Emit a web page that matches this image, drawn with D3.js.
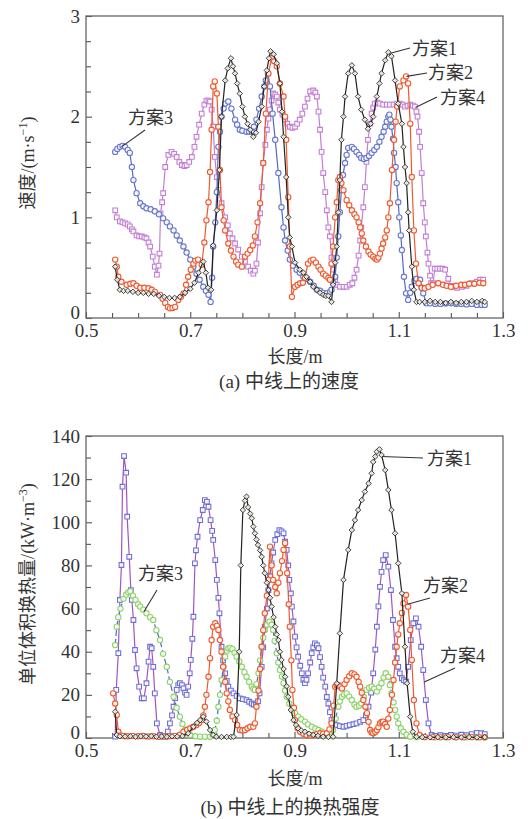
<!DOCTYPE html>
<html><head><meta charset="utf-8">
<script src="https://cdn.jsdelivr.net/npm/d3@7"></script>
<style>html,body{margin:0;padding:0;background:#fff;}svg{display:block;}</style>
</head><body>
<svg id="c" width="530" height="819"></svg>
<script>
// ---------- DATA ----------
const xTicks = [0.5, 0.7, 0.9, 1.1, 1.3];
const xMinor = [0.55, 0.6, 0.65, 0.75, 0.8, 0.85, 0.95, 1.0, 1.05, 1.15, 1.2, 1.25];
const yTicksA = [0, 1, 2, 3];
const yMinorA = [0.25, 0.5, 0.75, 1.25, 1.5, 1.75, 2.25, 2.5, 2.75];
const yTicksB = [0, 20, 40, 60, 80, 100, 120, 140];
const yMinorB = [10, 30, 50, 70, 90, 110, 130];
const seriesNames = ["方案1", "方案2", "方案3", "方案4"];

// (a) velocity, m/s  [length m, value]
const vel1 = [[0.556,0.51],[0.560,0.38],[0.565,0.28],[0.572,0.27],[0.580,0.27],[0.590,0.26],[0.600,0.25],[0.610,0.25],[0.620,0.24],[0.630,0.24],[0.640,0.22],[0.650,0.21],[0.660,0.20],[0.670,0.20],[0.680,0.21],[0.690,0.25],[0.700,0.29],[0.708,0.35],[0.716,0.45],[0.725,0.56],[0.730,0.45],[0.734,0.30],[0.740,0.28],[0.744,0.72],[0.751,1.07],[0.756,1.47],[0.760,2.00],[0.767,2.36],[0.772,2.48],[0.778,2.58],[0.782,2.50],[0.786,2.43],[0.790,2.33],[0.795,2.23],[0.800,2.10],[0.805,2.00],[0.810,1.93],[0.815,1.87],[0.821,1.80],[0.826,1.84],[0.831,1.95],[0.837,2.10],[0.842,2.30],[0.847,2.46],[0.851,2.58],[0.854,2.65],[0.860,2.62],[0.866,2.53],[0.872,2.33],[0.876,2.05],[0.879,1.80],[0.884,1.40],[0.888,1.00],[0.891,0.80],[0.895,0.71],[0.901,0.55],[0.910,0.48],[0.917,0.45],[0.923,0.41],[0.930,0.36],[0.936,0.31],[0.943,0.28],[0.949,0.25],[0.955,0.23],[0.960,0.22],[0.965,0.22],[0.971,0.16],[0.974,0.33],[0.978,0.55],[0.981,0.71],[0.984,1.05],[0.987,1.37],[0.990,1.77],[0.994,2.00],[0.997,2.20],[1.003,2.43],[1.010,2.51],[1.016,2.43],[1.022,2.20],[1.028,2.07],[1.035,1.97],[1.041,1.88],[1.046,1.93],[1.051,2.00],[1.058,2.20],[1.063,2.33],[1.067,2.43],[1.074,2.56],[1.080,2.64],[1.086,2.60],[1.093,2.36],[1.099,2.13],[1.106,1.93],[1.109,1.70],[1.112,1.50],[1.115,1.34],[1.118,1.05],[1.120,0.87],[1.125,0.51],[1.129,0.28],[1.134,0.16],[1.140,0.16],[1.150,0.16],[1.160,0.17],[1.170,0.16],[1.180,0.16],[1.190,0.15],[1.200,0.16],[1.210,0.15],[1.220,0.16],[1.230,0.16],[1.240,0.17],[1.250,0.16],[1.260,0.17],[1.265,0.16]];
const vel2 = [[0.556,0.58],[0.559,0.51],[0.562,0.41],[0.568,0.36],[0.578,0.33],[0.585,0.34],[0.591,0.345],[0.597,0.32],[0.604,0.30],[0.612,0.30],[0.620,0.295],[0.626,0.28],[0.632,0.26],[0.642,0.23],[0.647,0.19],[0.652,0.15],[0.657,0.11],[0.661,0.096],[0.666,0.10],[0.671,0.11],[0.677,0.18],[0.682,0.21],[0.687,0.245],[0.692,0.33],[0.696,0.41],[0.701,0.48],[0.706,0.54],[0.710,0.57],[0.715,0.58],[0.722,0.53],[0.727,0.75],[0.731,0.97],[0.735,1.15],[0.738,1.45],[0.741,1.87],[0.744,2.30],[0.747,2.35],[0.751,2.23],[0.754,1.90],[0.757,1.47],[0.760,1.10],[0.764,0.97],[0.767,0.87],[0.773,0.74],[0.778,0.67],[0.783,0.61],[0.788,0.56],[0.792,0.53],[0.799,0.51],[0.805,0.61],[0.810,0.64],[0.815,0.675],[0.820,0.72],[0.824,0.81],[0.829,0.95],[0.834,1.14],[0.840,1.54],[0.845,2.03],[0.850,2.43],[0.856,2.58],[0.861,2.55],[0.866,2.50],[0.872,2.33],[0.879,2.20],[0.882,2.00],[0.884,1.77],[0.888,1.20],[0.891,0.71],[0.895,0.21],[0.901,0.31],[0.906,0.33],[0.911,0.345],[0.916,0.35],[0.920,0.40],[0.926,0.54],[0.931,0.57],[0.936,0.58],[0.941,0.55],[0.946,0.51],[0.950,0.48],[0.955,0.44],[0.960,0.42],[0.965,0.40],[0.968,0.38],[0.971,0.54],[0.974,0.71],[0.978,1.00],[0.981,1.15],[0.984,1.37],[0.987,1.40],[0.990,1.34],[0.994,1.27],[1.000,1.17],[1.005,1.12],[1.010,1.07],[1.015,1.03],[1.019,1.00],[1.023,0.95],[1.026,0.90],[1.029,0.84],[1.032,0.77],[1.037,0.71],[1.042,0.66],[1.046,0.63],[1.051,0.61],[1.055,0.59],[1.058,0.58],[1.061,0.60],[1.064,0.64],[1.067,0.69],[1.070,0.74],[1.074,0.80],[1.077,0.87],[1.080,1.00],[1.083,1.14],[1.087,1.47],[1.091,1.77],[1.094,1.95],[1.097,2.10],[1.102,2.30],[1.109,2.36],[1.114,2.40],[1.118,2.33],[1.122,1.93],[1.125,1.40],[1.129,0.87],[1.133,0.54],[1.138,0.345],[1.144,0.30],[1.150,0.295],[1.157,0.31],[1.165,0.33],[1.176,0.345],[1.185,0.33],[1.192,0.32],[1.200,0.31],[1.210,0.32],[1.220,0.33],[1.227,0.33],[1.235,0.34],[1.245,0.34],[1.255,0.35],[1.262,0.345]];
const vel3 = [[0.556,1.65],[0.560,1.68],[0.565,1.70],[0.570,1.71],[0.575,1.70],[0.580,1.67],[0.584,1.64],[0.588,1.50],[0.591,1.37],[0.597,1.24],[0.604,1.14],[0.610,1.11],[0.616,1.09],[0.624,1.08],[0.632,1.06],[0.640,1.03],[0.648,0.99],[0.655,0.95],[0.661,0.91],[0.668,0.87],[0.674,0.82],[0.680,0.77],[0.687,0.71],[0.693,0.65],[0.700,0.58],[0.706,0.51],[0.712,0.44],[0.718,0.38],[0.725,0.31],[0.730,0.27],[0.735,0.23],[0.739,0.16],[0.742,0.40],[0.744,0.71],[0.748,0.95],[0.751,1.25],[0.754,1.70],[0.757,1.85],[0.760,2.00],[0.764,2.08],[0.767,2.13],[0.773,2.15],[0.779,2.08],[0.786,1.97],[0.790,1.92],[0.795,1.87],[0.800,1.86],[0.808,1.85],[0.813,1.85],[0.818,1.85],[0.822,1.90],[0.827,1.97],[0.832,2.08],[0.837,2.20],[0.842,2.30],[0.845,2.36],[0.849,2.43],[0.853,2.30],[0.858,2.03],[0.863,1.77],[0.869,1.44],[0.875,1.10],[0.879,0.90],[0.882,0.77],[0.887,0.67],[0.891,0.58],[0.897,0.52],[0.904,0.48],[0.910,0.45],[0.917,0.41],[0.924,0.39],[0.930,0.36],[0.937,0.32],[0.943,0.28],[0.949,0.27],[0.955,0.25],[0.962,0.245],[0.968,0.26],[0.971,0.28],[0.974,0.35],[0.978,0.41],[0.981,0.60],[0.984,0.81],[0.987,1.05],[0.990,1.27],[0.993,1.42],[0.997,1.54],[1.000,1.62],[1.003,1.69],[1.010,1.70],[1.014,1.68],[1.019,1.65],[1.024,1.62],[1.028,1.59],[1.033,1.58],[1.038,1.59],[1.043,1.61],[1.048,1.64],[1.053,1.67],[1.058,1.70],[1.063,1.75],[1.067,1.80],[1.071,1.85],[1.074,1.90],[1.077,1.95],[1.080,2.00],[1.082,2.02],[1.084,1.97],[1.086,1.90],[1.089,1.78],[1.091,1.64],[1.094,1.50],[1.096,1.34],[1.099,1.15],[1.101,1.00],[1.104,0.82],[1.106,0.675],[1.110,0.41],[1.114,0.245],[1.118,0.18],[1.122,0.25],[1.125,0.31],[1.130,0.37],[1.134,0.39],[1.141,0.38],[1.144,0.30],[1.147,0.245],[1.153,0.146],[1.160,0.146],[1.170,0.14],[1.180,0.14],[1.190,0.145],[1.200,0.146],[1.210,0.14],[1.220,0.14],[1.230,0.135],[1.240,0.14],[1.250,0.13],[1.259,0.13],[1.265,0.13]];
const vel4 = [[0.556,1.07],[0.559,1.00],[0.565,0.96],[0.570,0.95],[0.575,0.94],[0.580,0.93],[0.584,0.91],[0.588,0.88],[0.591,0.86],[0.597,0.82],[0.602,0.81],[0.607,0.81],[0.612,0.80],[0.616,0.79],[0.620,0.75],[0.623,0.71],[0.628,0.61],[0.632,0.51],[0.636,0.43],[0.639,0.52],[0.641,0.64],[0.643,1.04],[0.646,1.15],[0.648,1.24],[0.652,1.50],[0.658,1.62],[0.664,1.65],[0.669,1.63],[0.674,1.60],[0.679,1.55],[0.684,1.52],[0.689,1.51],[0.693,1.52],[0.698,1.55],[0.703,1.60],[0.708,1.70],[0.712,1.80],[0.717,1.92],[0.722,2.03],[0.727,2.12],[0.731,2.16],[0.735,2.16],[0.738,2.15],[0.741,2.07],[0.744,1.90],[0.747,1.60],[0.751,1.40],[0.754,1.27],[0.760,1.14],[0.767,1.00],[0.772,0.92],[0.776,0.84],[0.781,0.79],[0.786,0.74],[0.792,0.68],[0.799,0.61],[0.805,0.56],[0.811,0.51],[0.816,0.47],[0.821,0.44],[0.824,0.47],[0.827,0.54],[0.830,0.75],[0.834,1.04],[0.837,1.30],[0.840,1.54],[0.844,1.72],[0.847,1.87],[0.850,1.98],[0.853,2.07],[0.856,2.16],[0.859,2.23],[0.863,2.22],[0.866,2.20],[0.869,2.14],[0.872,2.07],[0.877,2.02],[0.882,1.97],[0.886,1.93],[0.891,1.90],[0.896,1.89],[0.901,1.90],[0.905,1.93],[0.910,1.97],[0.915,2.03],[0.920,2.10],[0.925,2.18],[0.930,2.25],[0.936,2.26],[0.940,2.24],[0.943,2.20],[0.946,2.05],[0.949,1.87],[0.952,1.65],[0.955,1.44],[0.959,1.25],[0.962,1.07],[0.965,0.90],[0.968,0.81],[0.971,0.60],[0.974,0.48],[0.978,0.38],[0.981,0.33],[0.987,0.31],[0.994,0.31],[1.000,0.31],[1.006,0.33],[1.011,0.345],[1.015,0.40],[1.019,0.48],[1.023,0.62],[1.026,0.77],[1.028,0.90],[1.032,1.10],[1.035,1.30],[1.038,1.55],[1.041,1.77],[1.045,1.93],[1.048,2.03],[1.051,2.09],[1.054,2.13],[1.059,2.14],[1.064,2.13],[1.070,2.12],[1.077,2.12],[1.083,2.12],[1.090,2.12],[1.096,2.13],[1.102,2.13],[1.107,2.12],[1.112,2.10],[1.117,2.11],[1.122,2.12],[1.127,2.11],[1.131,2.10],[1.134,2.05],[1.136,2.00],[1.139,1.85],[1.141,1.70],[1.144,1.44],[1.147,1.14],[1.150,0.95],[1.152,0.81],[1.155,0.65],[1.157,0.54],[1.160,0.42],[1.162,0.345],[1.166,0.345],[1.169,0.49],[1.174,0.49],[1.179,0.49],[1.184,0.49],[1.189,0.48],[1.195,0.39],[1.200,0.32],[1.205,0.31],[1.212,0.30],[1.221,0.31],[1.230,0.32],[1.240,0.345],[1.250,0.36],[1.256,0.38],[1.262,0.38]];

// (b) heat transfer intensity, kW/m3
const heat1 = [[0.556,12.2],[0.559,1.4],[0.565,0.8],[0.575,0.7],[0.585,0.8],[0.595,0.6],[0.605,0.8],[0.615,0.7],[0.625,0.9],[0.635,0.6],[0.645,0.7],[0.655,0.6],[0.665,0.8],[0.675,0.7],[0.685,0.9],[0.696,2.2],[0.706,5.2],[0.713,7.0],[0.719,8.3],[0.725,9.9],[0.731,7.6],[0.738,3.7],[0.744,1.4],[0.750,0.6],[0.760,0.5],[0.770,0.5],[0.778,0.5],[0.783,0.6],[0.789,10.7],[0.794,40],[0.797,80],[0.801,105.7],[0.805,110],[0.808,111.9],[0.811,107],[0.815,104],[0.818,101.9],[0.821,98],[0.824,94.9],[0.827,92],[0.830,89.5],[0.834,87],[0.837,84],[0.840,80],[0.843,76.4],[0.847,72],[0.850,68.6],[0.853,65],[0.856,60.9],[0.860,56],[0.863,51.6],[0.866,48],[0.869,45.4],[0.872,40],[0.875,36.2],[0.879,32],[0.882,28.4],[0.885,24],[0.888,19.1],[0.893,13],[0.898,8.3],[0.903,6],[0.907,4.5],[0.913,3.5],[0.920,2.9],[0.928,2.0],[0.936,1.4],[0.945,1.0],[0.955,0.6],[0.965,0.5],[0.974,0.6],[0.981,25.3],[0.987,48.5],[0.994,73.3],[1.003,87.2],[1.010,96.4],[1.016,101],[1.022,105.7],[1.029,110.3],[1.035,114.2],[1.042,118],[1.048,122.7],[1.051,128],[1.055,130.5],[1.058,132.7],[1.063,133.8],[1.067,131.2],[1.074,124.2],[1.080,115],[1.086,105.7],[1.093,94.9],[1.099,81],[1.106,67.1],[1.112,42.3],[1.116,25.4],[1.122,9.9],[1.127,2.9],[1.134,0.6],[1.145,0.4],[1.160,0.3],[1.175,0.4],[1.190,0.3],[1.205,0.4],[1.220,0.3],[1.235,0.4],[1.250,0.3],[1.265,0.4]];
const heat2 = [[0.552,20.7],[0.556,16],[0.559,10.7],[0.562,2.9],[0.566,1.2],[0.572,1.0],[0.580,0.8],[0.590,1.0],[0.600,0.8],[0.610,0.9],[0.620,0.7],[0.630,0.8],[0.640,0.6],[0.650,0.7],[0.660,0.8],[0.670,1.0],[0.680,1.5],[0.687,2.9],[0.694,3.8],[0.700,4.5],[0.706,5.2],[0.712,6.0],[0.717,7.0],[0.722,8.3],[0.725,10.5],[0.728,14.5],[0.731,20],[0.735,28.4],[0.738,37],[0.741,45.4],[0.744,51.6],[0.748,53.2],[0.751,52],[0.754,50.1],[0.757,45.4],[0.760,40],[0.763,33],[0.767,26],[0.770,20.7],[0.773,17],[0.776,13],[0.781,10],[0.786,8.3],[0.790,6],[0.795,3.7],[0.800,3.5],[0.805,3.7],[0.810,4.5],[0.815,5.2],[0.821,5.2],[0.824,6.8],[0.827,14.5],[0.831,22],[0.834,32],[0.837,42.3],[0.840,50],[0.843,57.8],[0.847,66],[0.850,73.3],[0.853,88.7],[0.856,80],[0.859,73.3],[0.863,70],[0.866,67.1],[0.869,72],[0.872,76.4],[0.876,82],[0.879,87.2],[0.882,90.3],[0.886,76.4],[0.889,62],[0.891,51.6],[0.894,36],[0.896,22.3],[0.899,14],[0.901,8.3],[0.906,4.5],[0.911,2.9],[0.917,2.0],[0.923,1.4],[0.930,1.2],[0.936,1.4],[0.943,1.8],[0.949,2.2],[0.955,2.0],[0.962,2.2],[0.967,4],[0.971,6.8],[0.975,15],[0.978,23.8],[0.981,24.5],[0.984,24.6],[0.988,23.8],[0.991,23],[0.996,25],[1.000,26.9],[1.005,28.6],[1.010,30],[1.015,29.5],[1.019,28.4],[1.023,26],[1.026,23.8],[1.029,21],[1.032,17.6],[1.036,14.5],[1.039,11.5],[1.042,7.5],[1.045,3.7],[1.048,2.6],[1.051,2.2],[1.055,2.8],[1.058,3.7],[1.061,5],[1.064,6.8],[1.067,7.4],[1.070,7.6],[1.074,6.5],[1.077,5.2],[1.080,9],[1.083,13],[1.087,20],[1.090,26.9],[1.093,35],[1.096,42.3],[1.099,48],[1.102,53.2],[1.106,58],[1.109,62.4],[1.114,66.3],[1.118,60.9],[1.122,50.1],[1.125,36.2],[1.129,17.6],[1.134,6.8],[1.140,1.4],[1.150,0.5],[1.165,0.4],[1.180,0.3],[1.195,0.4],[1.210,0.3],[1.225,0.3],[1.240,0.4],[1.255,0.3],[1.265,0.3]];
const heat3 = [[0.556,43.1],[0.559,51.6],[0.562,56],[0.566,60],[0.572,64.5],[0.577,66.5],[0.581,67.5],[0.585,68],[0.590,66],[0.595,64],[0.600,62],[0.604,60.9],[0.610,59.5],[0.616,57.8],[0.623,56],[0.629,54.7],[0.635,50],[0.642,45.4],[0.648,39],[0.655,33],[0.661,26],[0.668,19.1],[0.674,14],[0.680,9.9],[0.685,6.5],[0.690,3.7],[0.695,2.2],[0.700,1.4],[0.710,0.8],[0.719,0.6],[0.728,0.6],[0.738,0.6],[0.743,1.5],[0.747,3.7],[0.751,8],[0.754,14.5],[0.757,20],[0.760,26.9],[0.764,33],[0.767,37.7],[0.770,40.5],[0.773,41.6],[0.777,41.8],[0.781,41.2],[0.785,39.5],[0.789,37.7],[0.794,35.5],[0.799,33],[0.804,30.5],[0.808,28.4],[0.813,26],[0.818,23.8],[0.821,22.8],[0.824,22.3],[0.827,25],[0.831,30],[0.834,36],[0.837,42.3],[0.840,46.5],[0.843,50.1],[0.847,52.5],[0.852,53.9],[0.856,52.5],[0.859,50.1],[0.862,45],[0.866,39.3],[0.869,35],[0.872,31.5],[0.876,28.5],[0.879,25.4],[0.882,22],[0.885,19.1],[0.890,16],[0.895,13],[0.901,11.5],[0.907,9.9],[0.913,8.7],[0.920,7.6],[0.926,6.3],[0.933,5.2],[0.940,4.4],[0.946,3.7],[0.952,3.0],[0.959,2.2],[0.965,2.5],[0.970,3.0],[0.974,3.7],[0.979,9],[0.984,14.5],[0.987,17],[0.991,19.1],[0.995,20.2],[1.000,20.7],[1.005,19.2],[1.010,17.6],[1.015,15.5],[1.019,14.5],[1.024,15],[1.028,16],[1.033,19],[1.038,22.3],[1.043,23.3],[1.048,23.8],[1.053,22.8],[1.058,21.5],[1.062,23.5],[1.067,25.4],[1.071,28],[1.075,30],[1.080,28.4],[1.083,24.5],[1.086,20.7],[1.090,16.5],[1.093,13],[1.096,9.9],[1.099,6.8],[1.104,4.5],[1.109,2.9],[1.115,1.5],[1.122,0.6],[1.135,0.4],[1.150,0.3],[1.170,0.3],[1.190,0.3],[1.210,0.3],[1.230,0.3],[1.250,0.3],[1.265,0.3]];
const heat4 = [[0.556,0.6],[0.558,22.3],[0.562,39.3],[0.565,64],[0.568,80.2],[0.570,116.5],[0.573,130.7],[0.577,123],[0.579,102.6],[0.583,84],[0.586,68.6],[0.588,64],[0.591,54.7],[0.594,40.8],[0.597,32.3],[0.602,23.8],[0.607,18.4],[0.611,18.4],[0.616,25.4],[0.620,35.4],[0.623,42.3],[0.626,41.6],[0.629,33],[0.632,20.7],[0.636,6.8],[0.642,1.4],[0.647,0.8],[0.652,0.6],[0.657,3],[0.661,6.8],[0.665,10.5],[0.668,14.5],[0.671,18.5],[0.674,22.3],[0.677,24.5],[0.680,25.4],[0.684,24.5],[0.687,23],[0.690,21],[0.693,20],[0.696,23.8],[0.699,30],[0.701,36.2],[0.704,46],[0.706,56.2],[0.709,81],[0.711,87],[0.714,93.3],[0.719,101],[0.724,105.7],[0.728,110.3],[0.732,109.5],[0.735,107.2],[0.739,101],[0.742,96],[0.744,91.8],[0.748,82.5],[0.751,73.3],[0.754,65],[0.756,57.8],[0.760,42.3],[0.763,36],[0.767,30],[0.770,26.5],[0.773,23.8],[0.778,22],[0.783,20.7],[0.789,19.5],[0.795,18.4],[0.801,18],[0.808,17.6],[0.813,16.8],[0.818,16],[0.822,15.5],[0.826,15.3],[0.830,17],[0.833,20.7],[0.837,33],[0.840,42],[0.843,51.6],[0.847,60],[0.850,68.6],[0.853,75],[0.856,81],[0.859,86],[0.863,91.8],[0.867,94.5],[0.871,96.4],[0.875,95.8],[0.879,94.9],[0.882,91],[0.885,87.2],[0.888,80],[0.890,73.3],[0.893,67],[0.895,60.9],[0.898,54],[0.901,47],[0.904,42],[0.907,37.7],[0.911,33.5],[0.914,30],[0.917,27],[0.920,25.4],[0.923,27],[0.926,30],[0.930,35],[0.933,39.3],[0.936,42],[0.939,43.9],[0.943,43],[0.946,41.6],[0.949,37.5],[0.952,33],[0.955,28],[0.959,23.8],[0.962,19],[0.965,16],[0.968,12],[0.971,8.3],[0.976,7],[0.981,6],[0.987,5.5],[0.994,5.2],[1.000,5.6],[1.006,6],[1.013,6.4],[1.019,6.8],[1.026,7.5],[1.032,8.3],[1.037,10.5],[1.042,14.5],[1.047,21],[1.051,30],[1.055,41],[1.058,51.6],[1.061,61],[1.064,70.1],[1.067,77],[1.070,82.5],[1.075,84.8],[1.080,79.4],[1.085,68.6],[1.089,54.7],[1.093,42.3],[1.096,37],[1.099,33],[1.102,30],[1.106,27.7],[1.110,26.8],[1.114,26.1],[1.118,33],[1.123,45.4],[1.128,53.2],[1.133,55.5],[1.138,51.6],[1.143,42.3],[1.147,31.5],[1.152,17.6],[1.157,6.8],[1.163,1.4],[1.170,1.0],[1.180,1.3],[1.190,1.0],[1.200,1.4],[1.210,1.1],[1.220,1.5],[1.230,1.3],[1.240,1.8],[1.250,2.4],[1.258,2.2],[1.265,1.8]];

// ---------- DRAW ----------
const svg = d3.select("#c");
const NUM = "'Liberation Serif','Times New Roman',serif";
const TXT = "'Liberation Serif','Noto Sans CJK SC',serif";
const L = 86, R = 503;
const x = d3.scaleLinear().domain([0.5, 1.3]).range([L, R]);
const yA = d3.scaleLinear().domain([0, 3]).range([318, 16]);
const yB = d3.scaleLinear().domain([0, 140]).range([738, 436]);

function panel(y, majors, minors, fmtY) {
  const [yb, yt] = y.range();
  const g = svg.append("g");
  const xa = g.append("g").attr("transform", `translate(0,${yb})`)
    .call(d3.axisBottom(x).tickValues(majors.x).tickSize(-6).tickPadding(6).tickFormat(d3.format(".1f")));
  const xm = g.append("g").attr("transform", `translate(0,${yb})`)
    .call(d3.axisBottom(x).tickValues(minors.x).tickSize(-5).tickFormat(""));
  const ya = g.append("g").attr("transform", `translate(${L},0)`)
    .call(d3.axisLeft(y).tickValues(majors.y).tickSize(-6).tickPadding(6).tickFormat(fmtY));
  const ym = g.append("g").attr("transform", `translate(${L},0)`)
    .call(d3.axisLeft(y).tickValues(minors.y).tickSize(-5).tickFormat(""));
  [xa, xm, ya, ym].forEach(a => {
    a.select(".domain").remove();
    a.selectAll("line").attr("stroke", "#555").attr("stroke-width", 1.1);
    a.selectAll("text").attr("font-family", NUM).attr("font-size", 19).attr("fill", "#333");
  });
  // lift the zero label of the y axis a little so it clears the x labels
  ya.selectAll(".tick").filter(d => d === 0).select("text").attr("dy", "0.05em");
  g.append("rect").attr("x", L).attr("y", yt).attr("width", R - L).attr("height", yb - yt)
    .attr("fill", "none").attr("stroke", "#666").attr("stroke-width", 1.3);
  return g;
}
panel(yA, {x: xTicks, y: yTicksA}, {x: xMinor, y: yMinorA}, d3.format("d"));
panel(yB, {x: xTicks, y: yTicksB}, {x: xMinor, y: yMinorB}, d3.format("d"));

const symCircle = d3.symbol().type(d3.symbolCircle).size(22)();
const symSquare = d3.symbol().type(d3.symbolSquare).size(22)();
const symDiamond = d3.symbol().type(d3.symbolSquare).size(15)();

function series(y, data, o) {
  const g = svg.append("g");
  const line = d3.line().x(d => x(d[0])).y(d => y(d[1]));
  g.append("path").datum(data).attr("d", line).attr("fill", "none")
    .attr("stroke", o.line).attr("stroke-width", 1.2)
    .attr("stroke-dasharray", o.dash || null);
  g.selectAll("path.m").data(data).join("path").attr("class", "m")
    .attr("d", o.sym)
    .attr("transform", d => `translate(${x(d[0])},${y(d[1])})` + (o.rot ? " rotate(45)" : ""))
    .attr("fill", o.fill || "#fff").attr("fill-opacity", 0.9)
    .attr("stroke", o.mark).attr("stroke-width", o.sw || 1.1);
}
// (a)
series(yA, vel4, {line: "#c27fd4", mark: "#c27fd4", sym: symSquare});
series(yA, vel3, {line: "#5468c4", mark: "#6677cc", sym: symCircle});
series(yA, vel2, {line: "#ee5a2f", mark: "#ee5a2f", sym: symCircle});
series(yA, vel1, {line: "#222", mark: "#333", sym: symDiamond, rot: true, fill: "#f3efe6", sw: 0.9});
// (b)
series(yB, heat4, {line: "#a253c6", mark: "#6f70d6", sym: symSquare});
series(yB, heat3, {line: "#4a6bc4", mark: "#8ed46b", sym: symCircle, dash: "6,3"});
series(yB, heat2, {line: "#ee5a2f", mark: "#ee5a2f", sym: symCircle});
series(yB, heat1, {line: "#222", mark: "#333", sym: symDiamond, rot: true, fill: "#f3efe6", sw: 0.9});

// ---------- annotations ----------
function note(name, tx, ty, y, px, py) {
  svg.append("line").attr("x1", x(px)).attr("y1", y(py)).attr("x2", tx[0]).attr("y2", tx[1])
    .attr("stroke", "#333").attr("stroke-width", 1.1);
  svg.append("text").attr("x", ty[0]).attr("y", ty[1]).text(name)
    .attr("font-family", TXT).attr("font-size", 18).attr("fill", "#333");
}
note(seriesNames[0], [410, 48], [412, 55], yA, 1.084, 2.63);
note(seriesNames[1], [427, 73], [428, 79], yA, 1.115, 2.40);
note(seriesNames[2], [145, 130], [128, 124], yA, 0.568, 1.70);
note(seriesNames[3], [437, 97], [440, 104], yA, 1.132, 2.09);
note(seriesNames[0], [423, 458], [427, 465], yB, 1.068, 130.5);
note(seriesNames[1], [430, 598], [423, 592], yB, 1.117, 62);
note(seriesNames[2], [157, 590], [138, 580], yB, 0.611, 58.5);
note(seriesNames[3], [455, 668], [440, 662], yB, 1.149, 26);

// ---------- axis titles ----------
function ytitle(cx, cy, main, sup) {
  const t = svg.append("text").attr("transform", `translate(${cx},${cy}) rotate(-90)`)
    .attr("text-anchor", "middle").attr("font-family", TXT).attr("font-size", 18).attr("fill", "#333");
  t.append("tspan").text(main);
  t.append("tspan").attr("dy", -7).attr("font-size", 12).text(sup);
  t.append("tspan").attr("dy", 7).text(")");
}
ytitle(34, 163, "速度/(m·s", "−1");
ytitle(34, 584, "单位体积换热量/(kW·m", "−3");

function ctext(cx, cy, s, size) {
  svg.append("text").attr("x", cx).attr("y", cy).attr("text-anchor", "middle")
    .attr("font-family", TXT).attr("font-size", size).attr("fill", "#333").text(s);
}
ctext(295, 363, "长度/m", 18);
ctext(289, 388, "(a) 中线上的速度", 19);
ctext(295, 785, "长度/m", 18);
ctext(290, 814, "(b) 中线上的换热强度", 19);
</script>
</body></html>
